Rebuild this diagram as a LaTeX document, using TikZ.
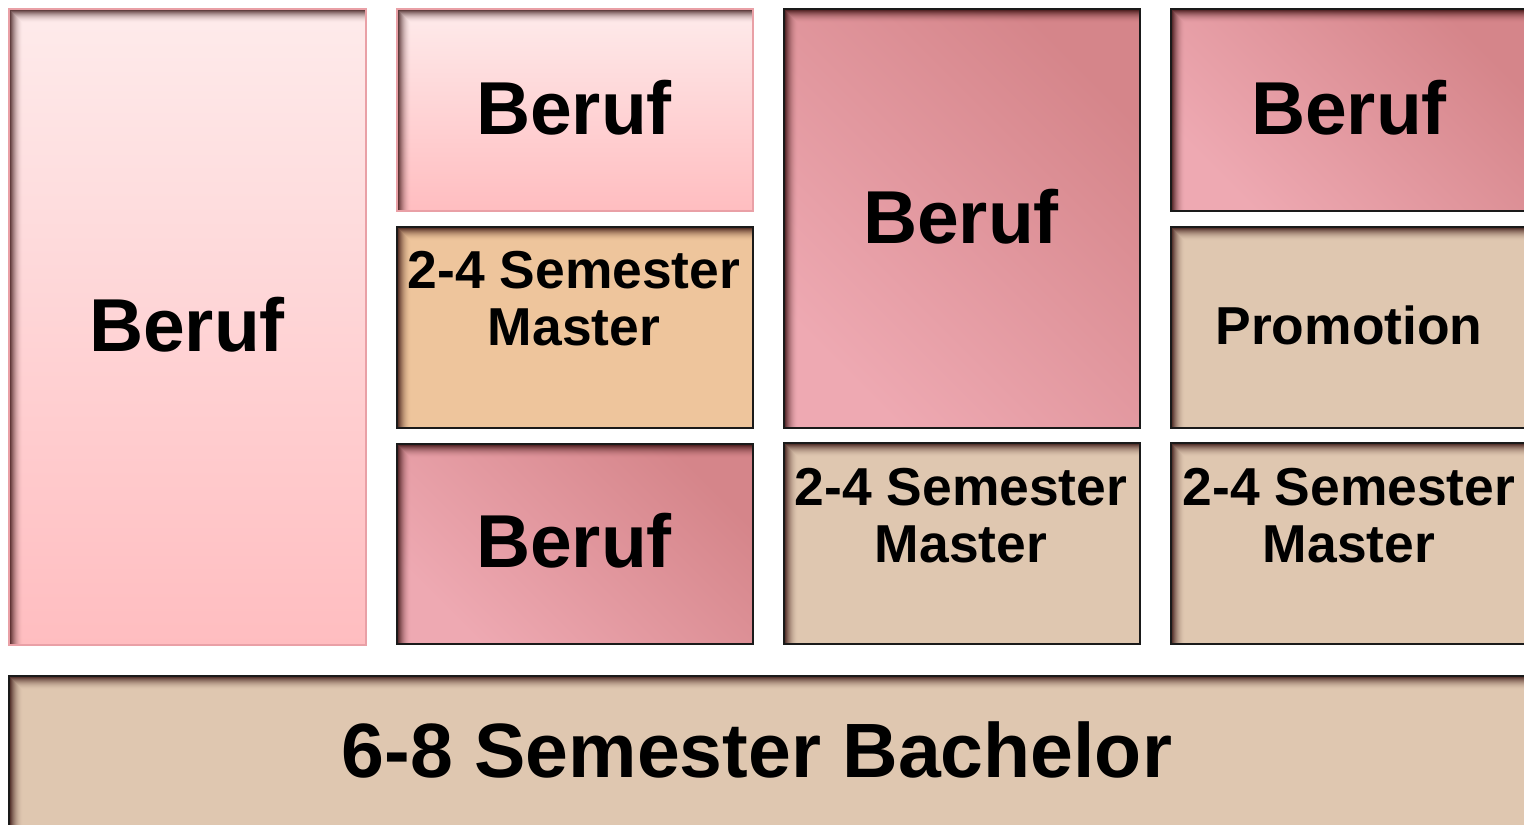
\documentclass[tikz,border=0pt]{standalone}
\usepackage{fontspec}
\setmainfont{Liberation Sans}
\definecolor{paletop}{HTML}{FEEBEB}
\definecolor{palebot}{HTML}{FFBDC0}
\definecolor{paleline}{HTML}{E9A0A6}
\definecolor{rosedark}{HTML}{D5858A}
\definecolor{roselight}{HTML}{EEA9B2}
\definecolor{tan}{HTML}{DFC7B0}
\definecolor{apricot}{HTML}{EEC59C}
\definecolor{edge}{HTML}{1A1A1A}
\tikzset{
  x=0.5pt, y=-0.5pt,
  inshadow/.style={path picture={
    \foreach \k in {0,...,13}{
      \pgfmathsetmacro\op{0.85*(1-\k/14)^2}
      \draw[line width=0.55pt, draw=black!85!red, draw opacity=\op]
        ([xshift={(\k+0.5)*0.5pt}]path picture bounding box.south west) |-
        ([yshift={-(\k+0.5)*0.5pt}]path picture bounding box.north east);
    }}},
  boxbase/.style={rectangle, anchor=north west, inner sep=0pt, line width=1pt, inshadow},
  palebox/.style={boxbase, draw=paleline, top color=paletop, bottom color=palebot},
  rosebox/.style={boxbase, draw=edge, bottom color=roselight, top color=rosedark, shading angle=-45},
  tanbox/.style={boxbase, draw=edge, fill=tan},
  apricotbox/.style={boxbase, draw=edge, fill=apricot},
  big/.style={font=\fontsize{37.5}{45}\selectfont\bfseries, inner sep=0pt},
  mid/.style={font=\fontsize{26.7}{28.5}\selectfont\bfseries, inner sep=0pt, align=center},
}
\begin{document}
\begin{tikzpicture}
\clip (0,0) rectangle (1524,824);
\fill[white] (0,0) rectangle (1524,824);
% column 1
\node[palebox, minimum width=178.5pt, minimum height=318pt] (b1) at (8,8) {};
% column 2
\node[palebox, minimum width=178pt, minimum height=101pt] (b2) at (396,8) {};
\node[apricotbox, minimum width=178pt, minimum height=100.5pt] (m2) at (396,226) {};
\node[rosebox, minimum width=178pt, minimum height=100pt] (b3) at (396,443) {};
% column 3
\node[rosebox, minimum width=178pt, minimum height=209.5pt] (b4) at (783,8) {};
\node[tanbox, minimum width=178pt, minimum height=100.5pt] (m3) at (783,442) {};
% column 4
\node[rosebox, minimum width=178pt, minimum height=101pt] (b5) at (1170,8) {};
\node[tanbox, minimum width=178pt, minimum height=100.5pt] (p4) at (1170,226) {};
\node[tanbox, minimum width=178pt, minimum height=100.5pt] (m4) at (1170,442) {};
% bottom
\node[tanbox, minimum width=765pt, minimum height=90pt] (ba) at (8,675) {};
% texts
\node[big] (t1) at (187,325) {Beruf};
\node[big] (t2) at (574,108) {Beruf};
\node[mid] (t3) at (574,298.5) {2-4 Semester\\Master};
\node[big] (t4) at (574,541) {Beruf};
\node[big] (t5) at (961,217) {Beruf};
\node[mid] (t6) at (961,515.5) {2-4 Semester\\Master};
\node[big] (t7) at (1349,108) {Beruf};
\node[mid] (t8) at (1349,325) {Promotion};
\node[mid] (t9) at (1349,515.5) {2-4 Semester\\Master};
\node[font=\fontsize{38.5}{45}\selectfont\bfseries, inner sep=0pt] (t10) at (757,750) {6-8 Semester Bachelor};
\end{tikzpicture}
\end{document}
